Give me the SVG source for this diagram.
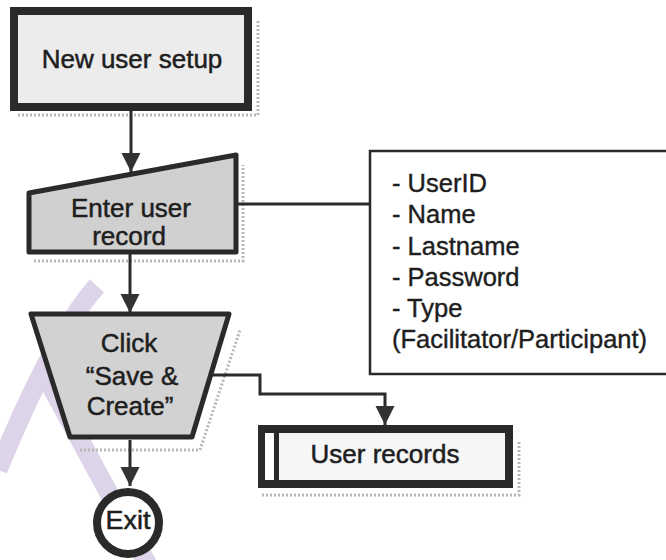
<svg xmlns="http://www.w3.org/2000/svg" width="666" height="560" viewBox="0 0 666 560">
<style>
.txt{font-family:"Liberation Sans",Arial,sans-serif;fill:#1e1e1e;stroke:#1e1e1e;stroke-width:0.5;font-size:26px;text-anchor:middle}
.info{font-family:"Liberation Sans",Arial,sans-serif;fill:#1e1e1e;stroke:#1e1e1e;stroke-width:0.4;font-size:25.5px}
.conn{fill:none;stroke:#2b2b2b;stroke-width:3}
.shadow{fill:none;stroke:#b8b8b8;stroke-width:3;stroke-dasharray:2 2}
.wm{fill:none;stroke:#ddd4ea;stroke-width:19}
</style>
<defs>
<marker id="ah" viewBox="0 0 10 10" refX="10" refY="5" markerWidth="6.5" markerHeight="6.5" markerUnits="strokeWidth" orient="auto">
<path d="M0,0 L10,5 L0,10 Z" fill="#333"/>
</marker>
</defs>
<rect width="666" height="560" fill="#fff"/>
<g id="watermark">
<path class="wm" d="M97,286 C68,318 35,380 -2,470"/>
<path class="wm" d="M42,370 L148,565"/>
</g>
<g id="shadows">
<path class="shadow" d="M18,115 H258 V20"/>
<path class="shadow" d="M34,261 H243 V165"/>
<path class="shadow" d="M80,450 H200 L240,330"/>
<path class="shadow" d="M262,495 H519 V440"/>
</g>
<g id="connectors">
<path class="conn" d="M131,110 V172" marker-end="url(#ah)"/>
<path class="conn" d="M130,254 V313" marker-end="url(#ah)"/>
<path class="conn" d="M130,440 V486" marker-end="url(#ah)"/>
<path class="conn" d="M237,204 H370"/>
<path class="conn" d="M212,375 H260 V394 H385 V425" marker-end="url(#ah)"/>
</g>
<g id="new-user-setup">
<rect x="14" y="11" width="234" height="96" fill="#ececec" stroke="#2a2a2a" stroke-width="8"/>
<text class="txt" x="132" y="68">New user setup</text>
</g>
<g id="enter-user-record">
<path d="M29,193 L236,155 L236,252 L29,252 Z" fill="#d0d0d0" stroke="#2a2a2a" stroke-width="5" stroke-linejoin="round"/>
<text class="txt" x="131" y="217">Enter user</text>
<text class="txt" x="129" y="245">record</text>
</g>
<g id="user-fields">
<rect x="370" y="151" width="310" height="223" fill="#fff" stroke="#2a2a2a" stroke-width="2.5"/>
<text class="info" x="392" y="192">- UserID</text>
<text class="info" x="392" y="223">- Name</text>
<text class="info" x="392" y="255">- Lastname</text>
<text class="info" x="392" y="286">- Password</text>
<text class="info" x="392" y="317">- Type</text>
<text class="info" x="392" y="348">(Facilitator/Participant)</text>
</g>
<g id="click-save-create">
<path d="M31,314 L229,314 L192,437 L70,437 Z" fill="#d2d2d2" stroke="#2a2a2a" stroke-width="5" stroke-linejoin="round"/>
<text class="txt" x="129" y="352">Click</text>
<text class="txt" x="132" y="385">“Save &amp;</text>
<text class="txt" x="130" y="415">Create”</text>
</g>
<g id="user-records">
<rect x="262" y="429" width="247" height="55" fill="#f6f6f6" stroke="#2a2a2a" stroke-width="8"/>
<rect x="265" y="433" width="8" height="47" fill="#fff"/>
<line x1="276.5" y1="430" x2="276.5" y2="484" stroke="#2a2a2a" stroke-width="5"/>
<text class="txt" x="385" y="463">User records</text>
</g>
<g id="exit">
<circle cx="128" cy="523" r="31" fill="#fff" stroke="#2a2a2a" stroke-width="8"/>
<text class="txt" x="128" y="529" textLength="45" lengthAdjust="spacingAndGlyphs">Exit</text>
</g>
</svg>
